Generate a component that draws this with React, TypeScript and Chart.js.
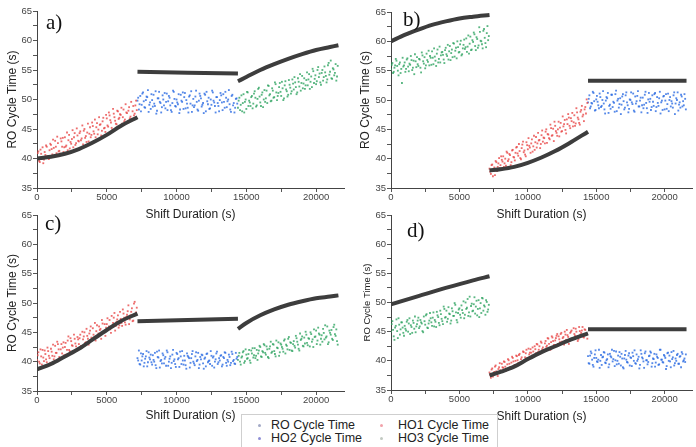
import React, { useEffect, useRef } from "react";
import { Chart, registerables } from "chart.js";
Chart.register(...registerables);

// ---------- shared axis data ----------
const xTickValues = [0, 2500, 5000, 7500, 10000, 12500, 15000, 17500, 20000];
const yTickValues = [35, 37.5, 40, 42.5, 45, 47.5, 50, 52.5, 55, 57.5, 60, 62.5, 65];
const X_MIN = 0;
const X_MAX = 22000;
const Y_MIN = 35;
const Y_MAX = 65;
const SAMPLE_STEP = 100; // seconds between samples of one run
const RUN_B_OFFSET = 50; // second run sampled half a step later
const seg1Start = 0;
const seg2Start = 7200;
const seg3Start = 14400;

// ---------- panel a ----------
const aHO1 = [
  40.1, 41.2, 39.4, 40.8, 41.9, 39.8, 40.6, 42.0, 40.3, 41.4,
  42.3, 40.7, 41.8, 43.0, 40.9, 42.6, 41.3, 43.4, 42.0, 41.1,
  43.6, 42.2, 41.4, 44.0, 42.8, 43.3, 41.9, 44.3, 42.6, 43.9,
  42.9, 44.6, 43.4, 42.4, 45.0, 43.8, 44.4, 42.9, 45.3, 44.0,
  45.5, 44.2, 43.6, 46.0, 44.9, 45.7, 43.9, 46.3, 45.1, 44.5,
  46.8, 45.4, 47.3, 46.1, 44.9, 47.6, 46.4, 45.8, 48.0, 46.9,
  47.4, 45.9, 48.3, 46.6, 47.8, 46.2, 48.7, 47.1, 46.5, 48.9,
  47.6, 49.8,
];
const aHO1b = [
  40.9, 39.6, 41.5, 40.0, 39.2, 41.1, 42.2, 40.4, 39.9, 42.5,
  41.6, 43.2, 40.5, 42.0, 43.7, 41.2, 40.8, 42.9, 43.5, 41.9,
  42.0, 44.4, 43.1, 41.7, 42.5, 44.8, 43.6, 42.3, 45.1, 43.0,
  44.3, 43.1, 45.6, 44.7, 43.5, 42.8, 45.9, 44.2, 43.6, 46.1,
  44.6, 46.6, 45.3, 44.1, 47.0, 45.8, 44.7, 46.9, 45.2, 47.4,
  45.6, 47.8, 46.5, 45.2, 48.4, 47.0, 45.9, 48.1, 46.7, 47.5,
  48.6, 47.0, 46.3, 49.2, 47.7, 48.1, 46.8, 49.6, 48.0, 47.3,
  49.0, 48.2,
];
const aHO2 = [
  49.8, 48.3, 50.6, 49.1, 51.2, 48.7, 49.9, 50.4, 47.9, 49.5,
  50.9, 48.8, 49.3, 51.4, 48.1, 50.2, 49.6, 47.8, 50.7, 49.0,
  48.5, 51.0, 49.7, 50.3, 48.2, 49.4, 51.3, 48.9, 50.0, 49.2,
  47.7, 50.8, 49.6, 48.4, 51.1, 49.9, 48.6, 50.5, 49.3, 47.9,
  50.1, 49.0, 51.5, 48.3, 49.8, 50.6, 48.8, 49.4, 51.0, 48.0,
  49.7, 50.3, 48.5, 49.1, 51.2, 49.5, 47.8, 50.4, 48.9, 49.9,
  50.7, 48.2, 49.6, 51.3, 48.7, 50.0, 49.2, 47.9, 50.8, 49.4,
  48.6, 50.2,
];
const aHO2b = [
  50.3, 49.2, 48.0, 51.0, 49.7, 48.6, 50.5, 51.6, 49.1, 48.4,
  49.9, 50.8, 48.9, 47.6, 50.2, 51.3, 49.4, 48.7, 50.0, 51.1,
  49.6, 48.2, 50.6, 49.0, 47.9, 51.5, 50.1, 48.8, 49.5, 50.9,
  48.3, 49.8, 51.2, 50.4, 48.5, 49.3, 47.8, 50.7, 51.4, 49.0,
  48.7, 50.5, 49.6, 48.1, 51.0, 50.2, 49.1, 47.7, 50.8, 51.3,
  49.2, 48.4, 50.0, 51.5, 49.8, 48.9, 50.4, 49.4, 48.0, 51.1,
  49.5, 50.9, 48.6, 50.3, 49.7, 51.6, 48.3, 50.6, 49.0, 47.8,
  50.1, 49.3,
];
const aHO3 = [
  48.6, 50.3, 49.1, 48.0, 50.9, 49.6, 48.4, 51.2, 49.8, 48.9,
  50.6, 49.3, 51.4, 48.8, 50.1, 52.0, 49.5, 50.8, 48.7, 51.6,
  50.2, 49.4, 52.3, 50.9, 49.8, 51.5, 50.4, 52.6, 49.9, 51.1,
  52.8, 50.6, 51.9, 50.2, 53.1, 51.4, 50.8, 52.5, 51.0, 53.4,
  51.7, 52.9, 50.9, 53.6, 52.2, 51.5, 54.0, 52.7, 51.8, 53.3,
  52.4, 54.3, 53.0, 52.1, 54.8, 53.5, 52.6, 55.0, 53.8, 52.9,
  54.5, 53.2, 55.6, 54.0, 53.4, 56.2, 54.7, 53.6, 55.3, 54.1,
  56.0, 53.9,
];
const aHO3b = [
  49.8, 48.2, 50.7, 49.4, 47.8, 50.0, 51.3, 48.9, 49.5, 50.4,
  48.5, 51.0, 50.3, 49.0, 51.8, 50.5, 48.9, 51.2, 50.0, 49.6,
  51.5, 52.4, 50.7, 49.7, 51.9, 50.3, 52.9, 51.2, 50.6, 52.1,
  51.3, 53.0, 49.9, 52.4, 51.7, 50.5, 53.3, 52.0, 51.4, 52.7,
  53.8, 52.1, 51.2, 53.0, 54.3, 52.8, 51.9, 53.6, 52.4, 54.6,
  53.4, 51.8, 53.9, 55.2, 52.8, 54.1, 53.1, 55.5, 54.4, 52.5,
  55.0, 53.8, 54.6, 52.9, 55.8, 54.2, 56.6, 53.5, 55.1, 54.5,
  53.2, 55.7,
];
const aFit1X = [0, 1000, 2000, 3000, 4000, 5000, 6000, 7200];
const aFit1Y = [40.0, 40.3, 40.8, 41.6, 42.7, 44.0, 45.5, 47.0];
const aFit2X = [7200, 14400];
const aFit2Y = [54.7, 54.4];
const aFit3X = [14400, 15000, 16000, 17000, 18000, 19000, 20000, 21000, 21600];
const aFit3Y = [53.1, 53.8, 55.0, 56.0, 56.9, 57.7, 58.4, 58.9, 59.2];

// ---------- panel b ----------
const bHO3 = [
  55.2, 56.3, 54.8, 55.9, 56.7, 55.0, 56.1, 54.6, 52.9, 55.7,
  56.4, 55.3, 57.1, 54.9, 56.0, 56.8, 55.5, 54.4, 56.6, 57.3,
  55.8, 56.9, 54.7, 57.6, 56.2, 55.4, 57.9, 56.5, 55.9, 57.2,
  58.3, 56.1, 57.4, 55.8, 58.6, 57.0, 56.4, 58.1, 57.7, 56.3,
  58.9, 57.5, 56.9, 59.2, 58.0, 57.3, 59.6, 58.4, 57.1, 59.0,
  58.2, 60.1, 57.8, 59.4, 58.7, 60.5, 59.1, 57.9, 60.8, 58.6,
  59.9, 61.2, 58.5, 60.4, 59.3, 61.6, 60.0, 58.8, 62.1, 59.7,
  61.4, 60.2,
];
const bHO3b = [
  56.0, 54.6, 55.5, 57.0, 55.8, 54.2, 56.4, 55.3, 57.2, 55.9,
  54.8, 56.9, 55.7, 56.2, 57.5, 55.1, 56.7, 57.8, 55.6, 56.1,
  57.0, 55.5, 58.1, 56.6, 57.3, 55.9, 56.8, 58.4, 57.5, 56.0,
  57.2, 58.8, 56.7, 57.9, 56.4, 59.1, 57.6, 58.2, 56.9, 58.5,
  57.8, 59.4, 58.3, 56.8, 58.6, 59.7, 57.4, 58.9, 60.0, 58.1,
  59.5, 57.6, 58.8, 60.3, 59.0, 58.2, 61.0, 59.6, 58.5, 60.2,
  61.5, 59.2, 60.7, 58.9, 62.4, 60.1, 59.5, 61.8, 60.6, 59.0,
  62.6, 60.9,
];
const bHO1 = [
  38.3, 37.4, 39.0, 38.0, 37.2, 39.4, 38.6, 40.1, 38.9, 39.8,
  40.4, 39.2, 38.8, 41.0, 39.9, 40.6, 39.4, 41.5, 40.2, 41.0,
  42.0, 40.5, 41.3, 39.9, 42.4, 41.1, 40.7, 42.8, 41.6, 42.2,
  41.0, 43.3, 42.1, 41.5, 43.7, 42.6, 43.1, 41.8, 44.0, 42.9,
  43.5, 44.6, 42.7, 44.1, 43.3, 45.2, 44.0, 43.0, 45.6, 44.4,
  45.0, 43.8, 46.1, 44.7, 45.5, 46.6, 44.3, 45.9, 47.0, 45.2,
  46.4, 45.5, 47.4, 46.0, 47.9, 46.7, 45.8, 48.3, 47.2, 46.4,
  48.8, 50.1,
];
const bHO1b = [
  37.8, 38.9, 37.0, 38.5, 39.6, 37.9, 39.2, 38.4, 40.4, 39.5,
  38.6, 40.0, 41.2, 39.6, 40.8, 38.9, 41.4, 40.3, 39.7, 41.9,
  40.9, 42.5, 40.1, 41.8, 42.9, 41.4, 40.4, 42.3, 43.5, 41.9,
  42.6, 41.2, 43.9, 42.8, 41.9, 44.4, 43.2, 42.5, 44.8, 43.6,
  42.6, 45.0, 44.2, 43.5, 45.8, 43.9, 45.1, 46.3, 44.7, 43.9,
  46.3, 45.3, 44.6, 47.2, 45.9, 44.9, 46.7, 47.6, 45.6, 46.9,
  47.8, 46.2, 45.6, 48.6, 47.0, 46.1, 48.0, 49.0, 47.5, 48.4,
  47.7, 49.5,
];
const bHO2 = [
  49.6, 50.8, 48.9, 49.4, 51.2, 48.2, 50.1, 49.7, 48.6, 50.5,
  49.0, 51.5, 48.4, 49.9, 50.3, 47.8, 49.2, 50.9, 48.8, 49.5,
  51.0, 48.1, 50.2, 49.3, 47.6, 50.6, 49.8, 48.7, 51.3, 49.1,
  48.5, 50.0, 49.6, 51.1, 48.0, 49.4, 50.7, 48.9, 49.9, 47.9,
  50.4, 49.2, 51.4, 48.6, 50.1, 49.7, 48.3, 50.8, 49.0, 51.2,
  48.8, 49.5, 50.3, 47.7, 49.9, 50.6, 48.4, 51.0, 49.3, 48.1,
  50.5, 49.8, 48.7, 51.3, 49.4, 50.0, 48.2, 49.6, 50.9, 48.9,
  49.1, 50.2,
];
const bHO2b = [
  50.2, 48.6, 49.5, 51.4, 49.8, 48.3, 50.7, 49.1, 51.1, 48.8,
  50.0, 49.4, 47.7, 50.5, 51.2, 49.0, 48.5, 50.9, 49.7, 48.0,
  51.6, 49.9, 48.7, 50.3, 49.2, 51.0, 48.4, 50.8, 49.6, 47.9,
  50.1, 51.3, 49.3, 48.2, 50.6, 49.8, 51.5, 48.9, 50.4, 49.1,
  48.6, 50.9, 49.5, 47.8, 51.2, 50.2, 48.8, 49.7, 51.0, 48.1,
  50.5, 49.0, 51.4, 49.6, 48.3, 50.7, 49.9, 48.5, 51.1, 50.0,
  48.9, 49.4, 50.8, 47.6, 50.3, 51.3, 49.2, 48.7, 50.6, 49.8,
  51.0, 48.4,
];
const bFit1X = [0, 1000, 2000, 3000, 4000, 5000, 6000, 7200];
const bFit1Y = [60.0, 61.1, 62.0, 62.8, 63.4, 63.9, 64.2, 64.5];
const bFit2X = [7200, 8000, 9000, 10000, 11000, 12000, 13000, 14400];
const bFit2Y = [38.0, 38.2, 38.6, 39.3, 40.2, 41.3, 42.6, 44.6];
const bFit3X = [14400, 21600];
const bFit3Y = [53.3, 53.3];

// ---------- panel c ----------
const cHO1 = [
  40.3, 41.6, 39.7, 40.9, 42.0, 40.1, 41.3, 39.9, 41.8, 40.6,
  42.2, 41.0, 40.4, 42.7, 41.5, 43.0, 40.8, 42.1, 41.4, 43.3,
  42.5, 41.2, 43.6, 42.0, 44.0, 42.8, 41.7, 43.9, 42.6, 44.2,
  43.0, 44.6, 42.4, 43.8, 45.0, 43.3, 44.4, 42.9, 45.3, 44.1,
  45.7, 44.0, 43.6, 46.2, 44.8, 45.4, 43.9, 46.5, 45.1, 44.4,
  46.4, 45.6, 47.1, 44.9, 46.0, 47.5, 45.3, 46.8, 47.9, 46.2,
  47.3, 46.1, 48.2, 46.7, 47.6, 48.6, 46.4, 47.9, 49.1, 47.0,
  50.2, 48.4,
];
const cHO1b = [
  41.1, 40.0, 42.1, 39.5, 40.7, 41.9, 40.4, 42.4, 41.0, 39.8,
  41.7, 42.9, 40.9, 41.5, 43.4, 42.1, 40.6, 43.0, 42.4, 41.1,
  43.2, 42.0, 44.3, 41.8, 43.5, 42.7, 44.6, 43.1, 41.9, 43.8,
  44.0, 42.7, 45.1, 44.3, 43.2, 45.6, 43.9, 44.8, 46.0, 43.7,
  44.6, 46.6, 45.2, 44.2, 46.0, 45.6, 47.1, 44.9, 46.4, 45.8,
  47.4, 46.0, 45.5, 47.8, 46.6, 48.3, 46.1, 47.2, 45.8, 48.5,
  46.6, 48.9, 47.5, 46.3, 48.0, 49.6, 47.2, 48.5, 46.9, 49.9,
  48.0, 49.2,
];
const cHO2 = [
  40.6, 41.9, 39.5, 40.2, 41.3, 39.8, 40.9, 39.2, 41.6, 40.4,
  39.9, 41.1, 40.0, 39.4, 41.7, 40.7, 39.0, 40.3, 41.4, 39.7,
  40.8, 41.9, 39.3, 40.5, 38.9, 41.2, 40.1, 39.6, 41.5, 40.4,
  39.1, 40.9, 41.8, 39.5, 40.2, 38.8, 41.0, 40.6, 39.8, 41.3,
  40.0, 39.4, 41.6, 40.3, 38.9, 40.8, 41.2, 39.7, 40.5, 39.2,
  41.4, 40.1, 39.6, 41.0, 40.7, 39.0, 40.4, 41.7, 39.9, 40.2,
  41.1, 39.5, 40.6, 41.5, 39.3, 40.0, 40.8, 39.8, 41.3, 40.3,
  39.6, 40.5,
];
const cHO2b = [
  40.2, 39.6, 41.4, 40.9, 39.2, 40.5, 41.8, 39.9, 40.7, 41.2,
  39.5, 40.3, 41.5, 38.9, 40.8, 41.9, 40.1, 39.7, 41.1, 40.5,
  39.3, 41.6, 40.0, 40.9, 39.8, 42.0, 40.4, 39.1, 41.3, 40.6,
  41.7, 39.6, 40.2, 41.0, 39.4, 41.4, 40.8, 39.0, 40.6, 41.8,
  39.7, 40.9, 40.1, 41.5, 39.5, 40.4, 41.1, 38.8, 40.7, 41.3,
  39.9, 40.2, 41.8, 39.3, 40.9, 40.0, 41.4, 39.6, 40.6, 41.0,
  39.2, 40.8, 41.6, 39.8, 40.3, 41.2, 39.4, 41.7, 40.1, 39.7,
  41.5, 40.8,
];
const cHO3 = [
  40.3, 41.5, 39.5, 40.9, 41.8, 40.1, 41.2, 40.6, 42.0, 39.8,
  41.4, 40.7, 42.3, 41.0, 40.3, 41.9, 42.5, 40.8, 41.6, 42.8,
  41.2, 42.1, 40.6, 42.6, 41.5, 43.0, 41.8, 40.9, 42.4, 43.3,
  41.6, 42.9, 42.2, 43.6, 41.4, 42.7, 43.9, 42.0, 43.2, 41.8,
  43.5, 42.4, 44.0, 42.9, 41.9, 43.7, 44.3, 42.6, 43.1, 44.6,
  42.8, 43.9, 45.0, 43.4, 42.5, 44.2, 45.3, 43.6, 44.8, 42.9,
  44.5, 45.6, 43.8, 44.1, 46.0, 43.3, 44.9, 45.4, 43.7, 46.3,
  44.4, 43.5,
];
const cHO3b = [
  41.0, 40.0, 40.7, 41.6, 39.8, 42.1, 40.5, 41.3, 40.2, 41.9,
  42.3, 41.1, 40.6, 42.0, 41.4, 42.7, 40.9, 41.8, 43.0, 41.5,
  42.6, 40.8, 42.2, 43.4, 41.7, 42.9, 41.3, 43.6, 42.3, 41.0,
  43.1, 42.5, 41.7, 43.8, 42.9, 42.1, 44.2, 43.3, 41.9, 43.0,
  42.7, 44.4, 43.4, 42.2, 44.8, 43.9, 42.7, 44.1, 45.1, 43.2,
  44.0, 42.6, 44.7, 43.8, 45.5, 44.3, 43.0, 45.8, 44.6, 43.9,
  43.4, 44.9, 46.2, 44.3, 43.0, 45.3, 44.6, 43.9, 45.9, 44.7,
  45.5, 42.9,
];
const cFit1X = [0, 1000, 2000, 3000, 4000, 5000, 6000, 7200];
const cFit1Y = [38.7, 39.6, 40.9, 42.2, 43.8, 45.4, 46.9, 48.2];
const cFit2X = [7200, 14400];
const cFit2Y = [46.9, 47.3];
const cFit3X = [14400, 15000, 16000, 17000, 18000, 19000, 20000, 21000, 21600];
const cFit3Y = [45.6, 46.6, 47.9, 48.9, 49.7, 50.3, 50.8, 51.1, 51.3];

// ---------- panel d ----------
const dHO3 = [
  45.0, 46.8, 44.2, 45.7, 47.1, 43.9, 46.2, 45.4, 46.6, 44.8,
  46.0, 45.2, 47.0, 46.4, 44.6, 45.8, 46.9, 45.5, 44.9, 46.3,
  47.4, 45.9, 46.6, 45.1, 47.6, 46.2, 48.0, 45.6, 46.9, 47.3,
  46.0, 48.3, 47.0, 45.8, 47.8, 46.5, 48.6, 47.2, 46.3, 48.9,
  47.5, 46.7, 49.2, 48.0, 46.9, 48.5, 47.7, 49.6, 47.0, 48.2,
  49.0, 47.4, 48.7, 50.2, 47.9, 48.9, 50.6, 48.3, 47.6, 49.8,
  48.6, 50.9, 49.3, 47.8, 50.4, 49.0, 48.2, 50.7, 49.5, 47.9,
  50.1, 48.8,
];
const dHO3b = [
  46.3, 45.3, 43.6, 46.0, 45.1, 47.3, 44.5, 46.6, 45.7, 44.3,
  45.5, 46.7, 45.0, 47.3, 46.1, 44.8, 46.5, 47.6, 45.9, 46.9,
  45.6, 47.0, 46.4, 44.9, 46.8, 47.8, 45.7, 46.4, 48.2, 46.6,
  47.4, 45.9, 46.7, 48.4, 47.5, 46.1, 48.0, 46.8, 49.3, 47.4,
  48.6, 47.2, 48.1, 46.4, 49.0, 47.7, 49.9, 48.3, 46.6, 48.8,
  47.9, 49.5, 48.2, 47.3, 50.0, 49.1, 47.7, 51.0, 49.4, 48.5,
  49.7, 48.1, 50.3, 48.9, 47.5, 49.9, 50.8, 48.6, 49.3, 50.4,
  48.4, 49.6,
];
const dHO1 = [
  38.0, 37.1, 38.7, 37.6, 39.0, 38.2, 37.4, 38.9, 38.4, 39.5,
  38.8, 39.8, 38.3, 39.4, 40.1, 38.9, 39.7, 40.5, 39.2, 40.0,
  40.8, 39.6, 41.2, 40.3, 39.8, 41.5, 40.6, 41.9, 40.2, 41.1,
  42.0, 40.9, 41.6, 42.5, 41.3, 42.8, 41.9, 41.2, 43.1, 42.3,
  41.8, 43.4, 42.6, 43.8, 42.1, 43.2, 44.0, 42.7, 43.5, 44.3,
  42.9, 43.7, 44.6, 43.3, 44.1, 45.0, 43.6, 44.4, 42.9, 44.8,
  45.2, 43.9, 44.6, 45.5, 44.2, 43.7, 45.1, 44.8, 45.8, 44.0,
  45.3, 44.5,
];
const dHO1b = [
  37.6, 38.5, 37.3, 38.1, 39.2, 37.8, 38.6, 39.6, 38.1, 38.9,
  39.9, 39.0, 38.5, 40.3, 39.5, 38.7, 40.7, 39.9, 39.3, 40.9,
  40.1, 41.0, 39.5, 40.6, 41.6, 40.0, 41.3, 40.5, 42.1, 41.4,
  41.4, 42.3, 40.8, 42.0, 42.9, 41.5, 42.5, 43.3, 42.0, 41.6,
  43.0, 42.4, 43.9, 42.9, 41.9, 44.2, 43.4, 42.7, 43.9, 44.6,
  44.2, 43.2, 44.8, 43.9, 42.8, 44.5, 45.3, 44.1, 43.5, 45.0,
  43.8, 45.6, 44.3, 45.0, 43.4, 45.8, 44.5, 45.2, 44.1, 45.4,
  44.6, 43.8,
];
const dHO2 = [
  40.8, 39.5, 41.6, 40.2, 39.0, 41.1, 40.5, 39.8, 41.9, 40.0,
  39.3, 40.7, 41.4, 39.6, 40.3, 38.9, 41.2, 40.6, 39.9, 41.7,
  40.1, 39.4, 40.9, 41.5, 39.2, 40.4, 38.7, 41.0, 40.2, 39.7,
  41.3, 40.6, 39.1, 40.8, 41.8, 39.5, 40.0, 40.7, 39.3, 41.2,
  40.4, 38.8, 41.6, 40.1, 39.8, 40.9, 41.4, 39.6, 40.3, 39.0,
  41.1, 40.5, 39.4, 41.9, 40.2, 39.7, 40.8, 38.6, 41.3, 40.0,
  39.9, 41.5, 40.6, 39.2, 40.4, 41.0, 39.5, 40.7, 38.9, 41.2,
  40.1, 39.8,
];
const dHO2b = [
  39.6, 40.9, 41.3, 39.3, 40.5, 41.8, 39.9, 40.2, 38.8, 41.0,
  40.6, 41.5, 39.7, 40.1, 41.1, 39.4, 40.8, 41.9, 40.3, 39.1,
  41.6, 40.0, 39.5, 40.7, 41.2, 38.9, 40.4, 41.7, 39.8, 40.9,
  39.2, 40.5, 41.4, 40.0, 39.6, 41.1, 40.3, 38.7, 41.8, 40.6,
  39.9, 41.3, 40.1, 39.4, 40.8, 41.6, 39.0, 40.4, 41.2, 39.7,
  40.7, 39.3, 41.9, 40.2, 39.8, 41.0, 40.5, 39.1, 41.4, 40.9,
  38.9, 40.3, 41.7, 39.6, 40.0, 41.2, 39.5, 40.8, 41.5, 39.9,
  40.4, 41.1,
];
const dFit1X = [0, 2000, 4000, 6000, 7200];
const dFit1Y = [49.7, 51.1, 52.5, 53.8, 54.5];
const dFit2X = [7200, 8000, 9000, 10000, 11000, 12000, 13000, 14400];
const dFit2Y = [37.5, 38.1, 39.0, 40.3, 41.5, 42.5, 43.5, 44.7];
const dFit3X = [14400, 21600];
const dFit3Y = [45.4, 45.4];

// ---------- legend ----------
const legendLabels = ["RO Cycle Time", "HO1 Cycle Time", "HO2 Cycle Time", "HO3 Cycle Time"];
const legendColors = ["#a3aac6", "#f2a2aa", "#8f8fd6", "#c2cac2"];

const COLOR_HO1 = "rgba(232, 72, 72, 0.8)";
const COLOR_HO2 = "rgba(44, 108, 226, 0.8)";
const COLOR_HO3 = "rgba(48, 164, 98, 0.8)";
const FIT_COLOR = "#3d3d3d";

type Series = { values: number[]; valuesB: number[]; start: number; color: string };
type Fit = { x: number[]; y: number[] };
type PanelCfg = {
  left: number; top: number; width: number; height: number;
  yW: number; padTop: number; padRight: number; xH: number;
  xTitlePad: number; yTitlePad: number; yTitleSize: number;
  series: Series[]; fits: Fit[];
};

const panels: PanelCfg[] = [
  {
    left: 0, top: 0, width: 348, height: 224, yW: 37, padTop: 11, padRight: 2, xH: 36,
    xTitlePad: 1.8, yTitlePad: 5.3, yTitleSize: 12,
    series: [
      { values: aHO1, valuesB: aHO1b, start: seg1Start, color: COLOR_HO1 },
      { values: aHO2, valuesB: aHO2b, start: seg2Start, color: COLOR_HO2 },
      { values: aHO3, valuesB: aHO3b, start: seg3Start, color: COLOR_HO3 },
    ],
    fits: [{ x: aFit1X, y: aFit1Y }, { x: aFit2X, y: aFit2Y }, { x: aFit3X, y: aFit3Y }],
  },
  {
    left: 348, top: 0, width: 348, height: 224, yW: 43, padTop: 12, padRight: 2, xH: 36,
    xTitlePad: 1.8, yTitlePad: 10.8, yTitleSize: 12,
    series: [
      { values: bHO3, valuesB: bHO3b, start: seg1Start, color: COLOR_HO3 },
      { values: bHO1, valuesB: bHO1b, start: seg2Start, color: COLOR_HO1 },
      { values: bHO2, valuesB: bHO2b, start: seg3Start, color: COLOR_HO2 },
    ],
    fits: [{ x: bFit1X, y: bFit1Y }, { x: bFit2X, y: bFit2Y }, { x: bFit3X, y: bFit3Y }],
  },
  {
    left: 0, top: 204, width: 348, height: 224, yW: 37, padTop: 11, padRight: 2, xH: 37,
    xTitlePad: 4.8, yTitlePad: 5.3, yTitleSize: 12,
    series: [
      { values: cHO1, valuesB: cHO1b, start: seg1Start, color: COLOR_HO1 },
      { values: cHO2, valuesB: cHO2b, start: seg2Start, color: COLOR_HO2 },
      { values: cHO3, valuesB: cHO3b, start: seg3Start, color: COLOR_HO3 },
    ],
    fits: [{ x: cFit1X, y: cFit1Y }, { x: cFit2X, y: cFit2Y }, { x: cFit3X, y: cFit3Y }],
  },
  {
    left: 348, top: 204, width: 348, height: 224, yW: 43, padTop: 11, padRight: 2, xH: 38,
    xTitlePad: 4.3, yTitlePad: 13.8, yTitleSize: 9.5,
    series: [
      { values: dHO3, valuesB: dHO3b, start: seg1Start, color: COLOR_HO3 },
      { values: dHO1, valuesB: dHO1b, start: seg2Start, color: COLOR_HO1 },
      { values: dHO2, valuesB: dHO2b, start: seg3Start, color: COLOR_HO2 },
    ],
    fits: [{ x: dFit1X, y: dFit1Y }, { x: dFit2X, y: dFit2Y }, { x: dFit3X, y: dFit3Y }],
  },
];

const panelLetters = [
  { text: "a)", left: 46, top: 12 },
  { text: "b)", left: 403, top: 9 },
  { text: "c)", left: 45, top: 213 },
  { text: "d)", left: 407, top: 220 },
];

function Panel({ cfg }: { cfg: PanelCfg }) {
  const ref = useRef<HTMLCanvasElement>(null);
  useEffect(() => {
    if (!ref.current) return;
    const datasets: any[] = [];
    cfg.fits.forEach((f) => {
      datasets.push({
        data: f.x.map((x, i) => ({ x, y: f.y[i] })),
        showLine: true,
        borderColor: FIT_COLOR,
        borderWidth: 4,
        pointRadius: 0,
        cubicInterpolationMode: "monotone",
        order: 0,
      });
    });
    cfg.series.forEach((s) => {
      const pts = [
        ...s.values.map((y, i) => ({ x: s.start + i * SAMPLE_STEP, y })),
        ...s.valuesB.map((y, i) => ({ x: s.start + RUN_B_OFFSET + i * SAMPLE_STEP, y })),
      ];
      datasets.push({
        data: pts,
        showLine: false,
        pointStyle: "rect",
        pointRadius: 1.3,
        pointBorderWidth: 0,
        backgroundColor: s.color,
        borderColor: s.color,
        order: 1,
      });
    });
    const tickFont = { family: "Arial, 'Liberation Sans', sans-serif", size: 9.5 };
    const chart = new Chart(ref.current, {
      type: "scatter",
      data: { datasets },
      options: {
        animation: false,
        responsive: false,
        devicePixelRatio: 1,
        layout: { padding: { top: cfg.padTop, right: cfg.padRight, left: 0, bottom: 0 } },
        plugins: { legend: { display: false }, tooltip: { enabled: false } },
        scales: {
          x: {
            type: "linear",
            min: X_MIN,
            max: X_MAX,
            afterBuildTicks: (s: any) => { s.ticks = xTickValues.map((v) => ({ value: v })); },
            afterFit: (s: any) => { s.height = cfg.xH; },
            grid: { display: true, drawOnChartArea: false, drawTicks: true, tickLength: 4, color: "#555" },
            border: { display: true, color: "#444", width: 1 },
            ticks: {
              callback: (v: any) => (Number(v) % 5000 === 0 ? String(v) : ""),
              font: tickFont, color: "#444", padding: 0, maxRotation: 0, autoSkip: false,
            },
            title: {
              display: true, text: "Shift Duration (s)", color: "#222",
              font: { family: "Arial, 'Liberation Sans', sans-serif", size: 12 },
              padding: { top: 0, bottom: cfg.xTitlePad },
            },
          },
          y: {
            type: "linear",
            min: Y_MIN,
            max: Y_MAX,
            afterBuildTicks: (s: any) => { s.ticks = yTickValues.map((v) => ({ value: v })); },
            afterFit: (s: any) => { s.width = cfg.yW; },
            grid: { display: true, drawOnChartArea: false, drawTicks: true, tickLength: 4, color: "#555" },
            border: { display: true, color: "#444", width: 1 },
            ticks: {
              callback: (v: any) => (Number(v) % 5 === 0 ? String(v) : ""),
              font: tickFont, color: "#444", padding: 1, autoSkip: false,
            },
            title: {
              display: true, text: "RO Cycle Time (s)", color: "#222",
              font: { family: "Arial, 'Liberation Sans', sans-serif", size: cfg.yTitleSize },
              padding: { top: cfg.yTitlePad, bottom: 0 },
            },
          },
        },
      } as any,
    });
    return () => chart.destroy();
  }, [cfg]);
  return (
    <canvas
      ref={ref}
      width={cfg.width}
      height={cfg.height}
      style={{ position: "absolute", left: cfg.left, top: cfg.top, width: cfg.width, height: cfg.height }}
    />
  );
}

export default function App() {
  return (
    <div style={{ position: "absolute", left: 0, top: 0, width: 696, height: 447, background: "#fff", overflow: "hidden" }}>
      {panels.map((p, i) => (
        <Panel key={i} cfg={p} />
      ))}
      {panelLetters.map((l) => (
        <div
          key={l.text}
          style={{
            position: "absolute", left: l.left, top: l.top, fontFamily: "'Times New Roman', 'Liberation Serif', serif",
            fontSize: 21, lineHeight: "21px", color: "#111",
          }}
        >
          {l.text}
        </div>
      ))}
      <div
        style={{
          position: "absolute", left: 241, top: 414, width: 257, height: 34, border: "1px solid #cfcfcf",
          boxSizing: "border-box", background: "#fff",
          fontFamily: "Arial, 'Liberation Sans', sans-serif", fontSize: 12.5, color: "#222",
        }}
      >
        {legendLabels.map((lab, i) => {
          const col = i % 2;
          const row = Math.floor(i / 2);
          const cy = row === 0 ? 10 : 23;
          return (
            <React.Fragment key={lab}>
              <div
                style={{
                  position: "absolute", left: col === 0 ? 16 : 138, top: cy - 1.5, width: 3, height: 3,
                  borderRadius: "50%", background: legendColors[i],
                }}
              />
              <div
                style={{
                  position: "absolute", left: col === 0 ? 29 : 156, top: cy - 8, height: 16, lineHeight: "16px",
                  whiteSpace: "nowrap",
                }}
              >
                {lab}
              </div>
            </React.Fragment>
          );
        })}
      </div>
    </div>
  );
}
